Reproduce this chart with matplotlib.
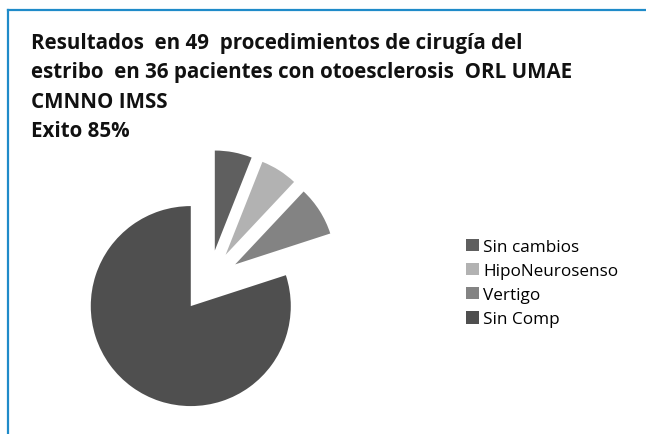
import matplotlib.pyplot as plt
from matplotlib.lines import Line2D

# data
labels = ['Sin cambios', 'HipoNeurosenso', 'Vertigo', 'Sin Comp']
counts = [3, 3, 4, 40]
colors = ['#5f5f5f', '#b2b2b2', '#838383', '#4f4f4f']

title_lines = [
    'Resultados  en 49  procedimientos de cirugía del',
    'estribo  en 36 pacientes con otoesclerosis  ORL UMAE',
    'CMNNO IMSS',
    'Exito 85%',
]

W, H = 646, 435
fig = plt.figure(figsize=(W / 100, H / 100), dpi=100)

# pie axes: 300x300 px square, ~100 px per data unit
ax = fig.add_axes([59 / W, 3 / H, 300 / W, 300 / H])
wedges, _ = ax.pie(counts, colors=colors, startangle=90, counterclock=False,
                   radius=1.0, explode=[0.31] * len(counts),
                   wedgeprops=dict(linewidth=0))
ax.set_xlim(-1.5, 1.5)
ax.set_ylim(-1.5, 1.5)
ax.set_aspect('equal')
ax.axis('off')

# title
for i, line in enumerate(title_lines):
    fig.text(31 / W, 1 - (43 + i * 29.5) / H, line, fontsize=14.8,
             fontweight='bold', family='Open Sans', color='#111111',
             ha='left', va='center')

# legend
fig.legend(wedges, labels, loc='upper left', bbox_to_anchor=(459 / W, 1 - 233 / H),
           frameon=False, prop={'family': 'Open Sans', 'size': 12.3},
           handlelength=0.75, handleheight=0.75, handletextpad=0.25,
           labelspacing=0.46, borderaxespad=0)

# blue frame lines (top and left)
fig.add_artist(Line2D([7.5 / W, 1], [1 - 10.5 / H, 1 - 10.5 / H],
                      transform=fig.transFigure, color='#1f8bc9', lw=1.6))
fig.add_artist(Line2D([7.5 / W, 7.5 / W], [0, 1 - 10.5 / H],
                      transform=fig.transFigure, color='#1f8bc9', lw=1.6))

fig.savefig('out.png', dpi=100)
